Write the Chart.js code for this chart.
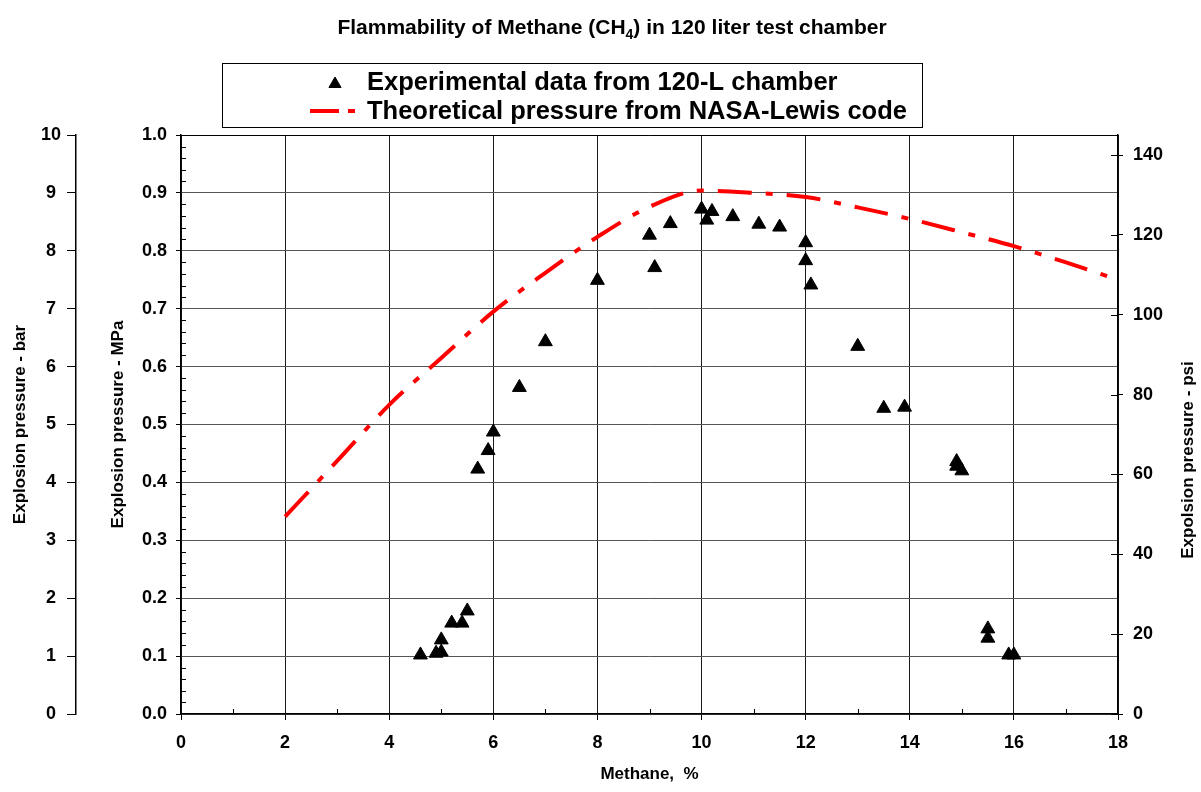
<!DOCTYPE html>
<html>
<head>
<meta charset="utf-8">
<title>Flammability of Methane</title>
<script src="https://cdn.jsdelivr.net/npm/chart.js@4.4.1/dist/chart.umd.min.js"></script>
<style>
  html, body { margin: 0; padding: 0; background: #fff; }
  #wrap { width: 1201px; height: 792px; }
</style>
</head>
<body>
<div id="wrap"><canvas id="flammChart"></canvas></div>
<script>
// Measured explosion pressure in the 120-L chamber
const expMethane = [4.6, 4.9, 5.0, 5.0, 5.2, 5.4, 5.5, 5.7, 5.9, 6.0, 6.5, 7.0, 8.0,
  9.0, 9.1, 9.4, 10.0, 10.1, 10.2, 10.6, 11.1, 11.5, 12.0, 12.0, 12.1,
  13.0, 13.5, 13.9, 14.9, 14.9, 15.0, 15.5, 15.5, 15.9, 16.0];
const expPressure = [0.102, 0.105, 0.107, 0.128, 0.157, 0.157, 0.178, 0.423, 0.455, 0.487, 0.564, 0.643, 0.749,
  0.827, 0.771, 0.847, 0.872, 0.853, 0.868, 0.859, 0.846, 0.841, 0.814, 0.783, 0.741,
  0.635, 0.528, 0.530, 0.436, 0.428, 0.420, 0.147, 0.131, 0.102, 0.102];

// NASA-Lewis equilibrium code, adiabatic explosion pressure
const theoMethane = [2, 3, 4, 5, 6, 7, 8, 9, 10, 11, 12, 13, 14, 15, 16, 17, 18];
const theoPressure = [0.341, 0.437, 0.534, 0.615, 0.695, 0.762, 0.824, 0.876, 0.904, 0.900, 0.893,
  0.875, 0.855, 0.832, 0.808, 0.780, 0.750];

const MPA_TO_PSI = 145.038;
const FONT = "'Liberation Sans', Arial, Helvetica, sans-serif";
const LINE_DASH = [34, 14, 7, 14];

// Title, legend box, minor ticks and the right-hand axis title
const decorations = {
  id: 'decorations',
  afterDraw(chart) {
    const ctx = chart.ctx;
    const area = chart.chartArea;
    const sx = chart.scales.x, sy = chart.scales.y, sp = chart.scales.psi;
    ctx.save();

    // top frame of the plot
    ctx.strokeStyle = '#000';
    ctx.lineWidth = 1;
    ctx.beginPath();
    ctx.moveTo(area.left, Math.round(area.top) + 0.5);
    ctx.lineTo(area.right, Math.round(area.top) + 0.5);
    ctx.stroke();

    // minor ticks, pointing inwards
    ctx.beginPath();
    for (let v = 1; v < 18; v += 2) {
      const px = Math.round(sx.getPixelForValue(v)) + 0.5;
      ctx.moveTo(px, area.bottom);
      ctx.lineTo(px, area.bottom - 5);
    }
    for (let i = 1; i < 50; i++) {
      if (i % 5 === 0) continue;
      const py = Math.round(sy.getPixelForValue(i * 0.02)) + 0.5;
      ctx.moveTo(area.left, py);
      ctx.lineTo(area.left + 5, py);
    }
    for (let v = 0; v <= 140; v += 20) {
      const py = Math.round(sp.getPixelForValue(v)) + 0.5;
      ctx.moveTo(area.right, py);
      ctx.lineTo(area.right - 7, py);
    }
    ctx.stroke();

    // chart title with subscript
    const parts = [
      { text: 'Flammability of Methane (CH', size: 21, dy: 0 },
      { text: '4', size: 14, dy: 5 },
      { text: ') in 120 liter test chamber', size: 21, dy: 0 }
    ];
    let total = 0;
    parts.forEach(p => {
      ctx.font = 'bold ' + p.size + 'px ' + FONT;
      p.w = ctx.measureText(p.text).width;
      total += p.w;
    });
    let tx = 612 - total / 2;
    ctx.fillStyle = '#000';
    ctx.textBaseline = 'alphabetic';
    ctx.textAlign = 'left';
    parts.forEach(p => {
      ctx.font = 'bold ' + p.size + 'px ' + FONT;
      ctx.fillText(p.text, tx, 34 + p.dy);
      tx += p.w;
    });

    // legend
    ctx.strokeStyle = '#000';
    ctx.lineWidth = 1;
    ctx.strokeRect(222.5, 63.5, 700, 64);
    const exp = chart.data.datasets[0];
    const theo = chart.data.datasets[1];
    ctx.fillStyle = '#000';
    Chart.helpers.drawPoint(ctx, { pointStyle: 'triangle', radius: 7, borderWidth: 1 }, 335, 84);
    ctx.strokeStyle = theo.borderColor;
    ctx.lineWidth = theo.borderWidth;
    ctx.setLineDash([29, 9, 7, 100]);
    ctx.beginPath();
    ctx.moveTo(310, 111);
    ctx.lineTo(356, 111);
    ctx.stroke();
    ctx.setLineDash([]);
    ctx.fillStyle = '#000';
    ctx.font = 'bold 25.5px ' + FONT;
    ctx.textBaseline = 'middle';
    ctx.fillText(exp.label, 367, 83);
    ctx.fillText(theo.label, 367, 112);

    // secondary axis title, reading bottom to top
    ctx.translate(1188, 460);
    ctx.rotate(-Math.PI / 2);
    ctx.font = 'bold 17px ' + FONT;
    ctx.textAlign = 'center';
    ctx.fillText('Expolsion pressure - psi', 0, 0);
    ctx.restore();
  }
};

const tickFont = { family: FONT, size: 18, weight: 'bold' };
const titleFont = { family: FONT, size: 17, weight: 'bold' };

new Chart(document.getElementById('flammChart'), {
  type: 'scatter',
  data: {
    datasets: [
      {
        label: 'Experimental data from 120-L chamber',
        data: expMethane.map((x, i) => ({ x: x, y: expPressure[i] })),
        xAxisID: 'x',
        yAxisID: 'y',
        pointStyle: 'triangle',
        pointRadius: 8,
        pointHoverRadius: 8,
        backgroundColor: '#000',
        borderColor: '#000',
        pointBorderWidth: 1,
        showLine: false
      },
      {
        label: 'Theoretical pressure from NASA-Lewis code',
        data: theoMethane.map((x, i) => ({ x: x, y: theoPressure[i] })),
        xAxisID: 'x',
        yAxisID: 'y',
        showLine: true,
        borderColor: '#ff0000',
        borderWidth: 4,
        borderDash: LINE_DASH,
        borderCapStyle: 'butt',
        pointRadius: 0,
        pointHoverRadius: 0,
        cubicInterpolationMode: 'monotone',
        fill: false
      }
    ]
  },
  options: {
    responsive: true,
    maintainAspectRatio: false,
    animation: false,
    layout: { padding: { top: 135, left: 0, right: 0, bottom: 0 } },
    plugins: {
      legend: { display: false },
      tooltip: { enabled: false },
      title: { display: false }
    },
    scales: {
      x: {
        type: 'linear',
        position: 'bottom',
        min: 0,
        max: 18,
        ticks: { stepSize: 2, color: '#000', font: tickFont, padding: 12, maxRotation: 0 },
        grid: { color: '#1a1a1a', tickColor: '#000', tickLength: 6, lineWidth: 1 },
        border: { color: '#000', width: 1.5 },
        title: { display: true, text: 'Methane,  %', color: '#000', font: { family: FONT, size: 17, weight: 'bold' }, padding: { top: 0, bottom: 7 } },
        afterFit(scale) { scale.height = 78; }
      },
      yBar: {
        type: 'linear',
        position: 'left',
        weight: 1,
        min: 0,
        max: 10,
        ticks: { stepSize: 1, color: '#000', font: tickFont, padding: 6, crossAlign: 'center' },
        grid: { drawOnChartArea: false, color: '#000', tickLength: 9 },
        border: { color: '#000', width: 1.5 },
        title: { display: true, text: 'Explosion pressure - bar', color: '#000', font: titleFont, padding: { top: 10, bottom: 0 } },
        afterFit(scale) { scale.width = 76; }
      },
      y: {
        type: 'linear',
        position: 'left',
        weight: 0,
        min: 0,
        max: 1,
        ticks: { stepSize: 0.1, color: '#000', font: tickFont, padding: 9, callback: v => v.toFixed(1) },
        grid: { color: '#555', tickColor: '#000', tickLength: 5, lineWidth: 1 },
        border: { color: '#000', width: 1.5 },
        title: { display: true, text: 'Explosion pressure - MPa', color: '#000', font: titleFont, padding: { top: 32, bottom: 0 } },
        afterFit(scale) { scale.width = 105; }
      },
      psi: {
        type: 'linear',
        position: 'right',
        min: 0,
        max: MPA_TO_PSI,
        ticks: { stepSize: 20, includeBounds: false, color: '#000', font: tickFont, padding: 10 },
        grid: { drawOnChartArea: false, color: '#000', tickLength: 5 },
        border: { color: '#000', width: 1.5 },
        afterFit(scale) { scale.width = 83; }
      }
    }
  },
  plugins: [decorations]
});
</script>
</body>
</html>
